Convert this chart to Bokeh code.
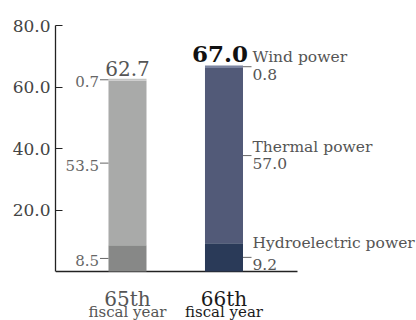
from bokeh.plotting import figure
from bokeh.models import Range1d, FixedTicker, Label, ColumnDataSource, NumeralTickFormatter
from bokeh.embed import file_html
from bokeh.resources import INLINE

# ---- data ----
years = ["65th", "66th"]
year_sub = ["fiscal year", "fiscal year"]
xpos = [1, 2]
hydro = [8.5, 9.2]
thermal = [53.5, 57.0]
wind = [0.7, 0.8]
totals = [62.7, 67.0]
series_names = ["Hydroelectric power", "Thermal power", "Wind power"]
y_ticks = [20, 40, 60, 80]

FONT = "DejaVu Serif"
BW = 0.394
X0, X1 = 0.2539, 3.995
BASE_END = 2.7617

p = figure(width=416, height=320, output_backend="svg", toolbar_location=None,
           x_range=Range1d(X0, X1), y_range=Range1d(-15.93, 80),
           x_axis_location=None,
           min_border_left=55, min_border_right=0, min_border_top=25, min_border_bottom=0)
p.outline_line_color = None
p.grid.visible = False
p.background_fill_color = "white"

# y axis
ya = p.yaxis[0]
ya.ticker = FixedTicker(ticks=y_ticks)
ya.bounds = (0, 80)
ya.major_tick_in = 7
ya.major_tick_out = 0
ya.minor_tick_line_color = None
ya.axis_line_color = "#222222"
ya.major_tick_line_color = "#222222"
ya.axis_line_width = 1.3
ya.major_label_text_font = FONT
ya.major_label_text_font_size = "17px"
ya.major_label_text_color = "#444444"
ya.major_label_standoff = 5
ya.formatter = NumeralTickFormatter(format="0.0")

# baseline
p.segment(x0=[X0], x1=[BASE_END], y0=[0], y1=[0], line_color="#222222", line_width=1.5)

# bars
h_bottom = [0, 0]
h_top = hydro
t_bottom = hydro
t_top = [h + t for h, t in zip(hydro, thermal)]
w_bottom = t_top
w_top = [a + w for a, w in zip(t_top, wind)]

hydro_colors = ["#878887", "#2a3a58"]
thermal_colors = ["#a9aaa9", "#525a78"]
wind_colors = ["#c4c5c4", "#7b84a0"]

src = ColumnDataSource(dict(x=xpos, hb=h_bottom, ht=h_top, tb=t_bottom, tt=t_top,
                            wb=w_bottom, wt=w_top, hc=hydro_colors, tc=thermal_colors,
                            wc=wind_colors))
p.vbar(x="x", bottom="hb", top="ht", width=BW, fill_color="hc", line_color=None, source=src)
p.vbar(x="x", bottom="tb", top="tt", width=BW, fill_color="tc", line_color=None, source=src)
p.vbar(x="x", bottom="wb", top="wt", width=BW, fill_color="wc", line_color=None, source=src)

# leader lines
mids1 = [(h_bottom[0] + h_top[0]) / 2, (t_bottom[0] + t_top[0]) / 2, (w_bottom[0] + w_top[0]) / 2]
mids2 = [(h_bottom[1] + h_top[1]) / 2, (t_bottom[1] + t_top[1]) / 2, (w_bottom[1] + w_top[1]) / 2]
L = 8.5 / 96.5
x1_left = xpos[0] - BW / 2
x2_right = xpos[1] + BW / 2
p.segment(x0=[x1_left - L] * 3, x1=[x1_left] * 3, y0=mids1, y1=mids1,
          line_color="#666666", line_width=1)
p.segment(x0=[x2_right] * 3, x1=[x2_right + L] * 3, y0=mids2, y1=mids2,
          line_color="#666666", line_width=1)

# left value labels (65th)
vals1 = [hydro[0], thermal[0], wind[0]]
for m, v in zip(mids1, vals1):
    p.add_layout(Label(x=x1_left - L, y=m, x_offset=-1, y_offset=-2, text=f"{v:.1f}",
                       text_font=FONT, text_font_size="15px", text_color="#666666",
                       text_align="right", text_baseline="middle"))

# right labels (66th)
vals2 = [hydro[1], thermal[1], wind[1]]
name_off = [14, 9, 10]
val_off = [-7, -8, -8]
for m, v, n, no, vo in zip(mids2, vals2, series_names, name_off, val_off):
    p.add_layout(Label(x=x2_right + L, y=m, x_offset=1, y_offset=no, text=n,
                       text_font=FONT, text_font_size="15.5px", text_color="#555555",
                       text_align="left", text_baseline="middle"))
    p.add_layout(Label(x=x2_right + L, y=m, x_offset=1, y_offset=vo, text=f"{v:.1f}",
                       text_font=FONT, text_font_size="15.5px", text_color="#555555",
                       text_align="left", text_baseline="middle"))

# totals
p.add_layout(Label(x=xpos[0], y=totals[0], y_offset=10, text=f"{totals[0]:.1f}",
                   text_font=FONT, text_font_size="20px", text_color="#555555",
                   text_align="center", text_baseline="alphabetic"))
p.add_layout(Label(x=xpos[1], y=totals[1], x_offset=-4, y_offset=11, text=f"{totals[1]:.1f}",
                   text_font=FONT, text_font_size="23px", text_color="#111111",
                   text_font_style="bold", text_align="center", text_baseline="alphabetic"))

# category labels
ycol = ["#555555", "#1a1a1a"]
for x, yr, sub, c in zip(xpos, years, year_sub, ycol):
    p.add_layout(Label(x=x, y=0, y_offset=-27, text=yr, text_font=FONT,
                       text_font_size="20px", text_color=c,
                       text_align="center", text_baseline="alphabetic"))
    p.add_layout(Label(x=x, y=0, y_offset=-40, text=sub, text_font=FONT,
                       text_font_size="15px", text_color=c,
                       text_align="center", text_baseline="alphabetic"))

open("out.html", "w").write(file_html(p, INLINE))
